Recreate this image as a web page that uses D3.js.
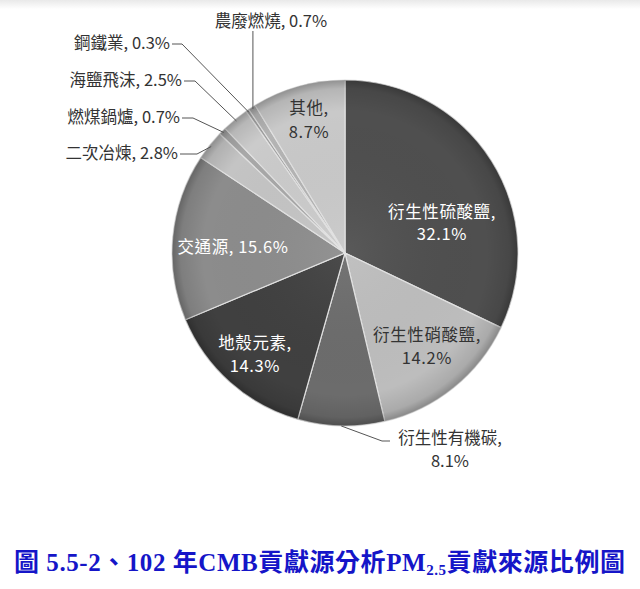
<!DOCTYPE html>
<html>
<head>
<meta charset="utf-8">
<script src="https://cdn.jsdelivr.net/npm/d3@7"></script>
<style>
  html, body { margin: 0; padding: 0; background: #fff; }
  svg { display: block; }
</style>
</head>
<body>
<svg id="chart" width="640" height="589"></svg>
<script>
// PM2.5 source contributions (CMB receptor model), clockwise from 12 o'clock
const sources = ["衍生性硫酸鹽", "衍生性硝酸鹽", "衍生性有機碳", "地殼元素", "交通源",
                 "二次冶煉", "燃煤鍋爐", "海鹽飛沫", "鋼鐵業", "農廢燃燒", "其他"];
const shares  = [32.1, 14.2, 8.1, 14.3, 15.6, 2.8, 0.7, 2.5, 0.3, 0.7, 8.7];
const fills   = ["#4f4f4f", "#bdbdbd", "#6c6c6c", "#404040", "#8c8c8c",
                 "#c4c4c4", "#a8a8a8", "#cbcbcb", "#a0a0a0", "#b4b4b4", "#c9c9c9"];
const inkColors = ["#fff", "#333", "#333", "#fff", "#fff",
                   "#333", "#333", "#333", "#333", "#333", "#333"];

// label placement: inside labels at a fixed point, outside labels with leaders
const labelLayout = [
  {mode: "in",  x: 442, y: 212, dy: 22, split: true},
  {mode: "in",  x: 427, y: 335, dy: 23, split: true},
  {mode: "below", x: 450, y: 438, dy: 23, elbow: [382, 441], tail: 390},
  {mode: "in",  x: 255, y: 343, dy: 23, split: true},
  {mode: "in",  x: 233, y: 247, split: false},
  {mode: "left", x: 178, y: 153, elbow: [197, 153]},
  {mode: "left", x: 180, y: 117, elbow: [193, 117]},
  {mode: "left", x: 182, y: 80,  elbow: [195, 80]},
  {mode: "left", x: 170, y: 43,  elbow: [182, 43]},
  {mode: "top",  x: 271, y: 21,  elbow: null},
  {mode: "in",  x: 309, y: 108, dy: 24, split: true}
];

const svg = d3.select("#chart");
const cx = 345, cy = 253, R = 173;
const labelFont = "'Noto Sans CJK TC', 'Noto Sans', sans-serif";

const defs = svg.append("defs");

// faint grey band along the top edge of the figure
const topBand = defs.append("linearGradient").attr("id", "topBand")
  .attr("x1", 0).attr("y1", 0).attr("x2", 0).attr("y2", 1);
topBand.append("stop").attr("offset", 0).attr("stop-color", "#e9e9e9");
topBand.append("stop").attr("offset", 1).attr("stop-color", "#fff");
svg.append("rect").attr("x", 0).attr("y", 0).attr("width", 640).attr("height", 9)
  .attr("fill", "url(#topBand)");

// bevel-like darkening toward the rim of the pie
const rim = defs.append("radialGradient")
  .attr("id", "rimShade").attr("gradientUnits", "userSpaceOnUse")
  .attr("cx", 0).attr("cy", 0).attr("r", R);
rim.append("stop").attr("offset", 0).attr("stop-color", "#fff").attr("stop-opacity", 0.06);
rim.append("stop").attr("offset", 0.82).attr("stop-color", "#000").attr("stop-opacity", 0);
rim.append("stop").attr("offset", 0.95).attr("stop-color", "#000").attr("stop-opacity", 0.10);
rim.append("stop").attr("offset", 1).attr("stop-color", "#000").attr("stop-opacity", 0.28);

const pie = d3.pie().sort(null).value(d => d).startAngle(0).endAngle(2 * Math.PI);
const arcs = pie(shares);
const arc = d3.arc().innerRadius(0).outerRadius(R);
const edgeArc = d3.arc().innerRadius(R - 2).outerRadius(R - 2);

const g = svg.append("g").attr("transform", `translate(${cx},${cy})`);

// slices
g.selectAll("path.slice").data(arcs).join("path")
  .attr("class", "slice")
  .attr("d", arc)
  .attr("fill", (d, i) => fills[i])
  .attr("stroke", "#e2e2e2")
  .attr("stroke-width", 1.2)
  .attr("stroke-linejoin", "round");

g.selectAll("path.shade").data(arcs).join("path")
  .attr("class", "shade")
  .attr("d", arc)
  .attr("fill", "url(#rimShade)")
  .attr("pointer-events", "none");

// labels
const lab = svg.append("g")
  .attr("font-family", labelFont)
  .attr("font-size", 16.5);

arcs.forEach((d, i) => {
  const L = labelLayout[i];
  const name = sources[i], pct = shares[i].toFixed(1) + "%";
  const p = edgeArc.centroid(d); // point on the rim at slice mid-angle
  const px = cx + p[0], py = cy + p[1];
  const inside = L.mode === "in";

  const addText = (x, y, anchor, str) =>
    lab.append("text").attr("x", x).attr("y", y).attr("dy", "0.35em")
      .attr("text-anchor", anchor)
      .attr("letter-spacing", inside ? 0.6 : 0)
      .attr("fill", inkColors[i]).text(str);

  if (inside) {
    if (L.split) {
      addText(L.x, L.y, "middle", name + ",");
      addText(L.x, L.y + L.dy, "middle", pct);
    } else {
      addText(L.x, L.y, "middle", name + ", " + pct);
    }
  } else if (L.mode === "below") {
    lab.append("path")
      .attr("d", d3.line()([[px, py + 2], L.elbow, [L.tail, L.elbow[1]]]))
      .attr("fill", "none").attr("stroke", "#555").attr("stroke-width", 1);
    addText(L.x, L.y, "middle", name + ",");
    addText(L.x, L.y + L.dy, "middle", pct);
  } else if (L.mode === "left") {
    lab.append("path")
      .attr("d", d3.line()([[L.x + 2, L.y + 1], [L.elbow[0], L.elbow[1] + 1], [px, py]]))
      .attr("fill", "none").attr("stroke", "#555").attr("stroke-width", 1);
    addText(L.x, L.y, "end", name + ", " + pct);
  } else if (L.mode === "top") {
    lab.append("path")
      .attr("d", d3.line()([[px, L.y + 10], [px, py]]))
      .attr("fill", "none").attr("stroke", "#555").attr("stroke-width", 1);
    addText(L.x, L.y, "middle", name + ", " + pct);
  }
});

// figure caption
const title = svg.append("text")
  .attr("x", 14).attr("y", 571)
  .attr("text-anchor", "start")
  .attr("fill", "#1515c8")
  .attr("font-weight", "bold")
  .attr("font-size", 25)
  .attr("font-family", "'Liberation Serif', 'Noto Sans CJK TC', serif")
  .attr("textLength", 611)
  .attr("lengthAdjust", "spacing");
title.append("tspan").text("圖 5.5-2、102 年CMB貢獻源分析PM");
title.append("tspan").attr("font-size", 15).attr("dy", 4).text("2.5");
title.append("tspan").attr("dy", -4).text("貢獻來源比例圖");
</script>
</body>
</html>
